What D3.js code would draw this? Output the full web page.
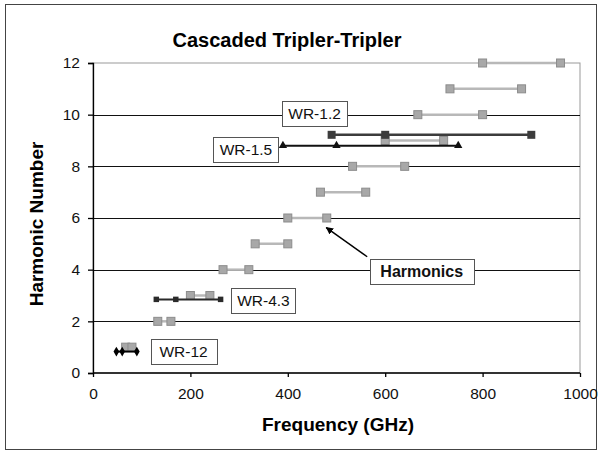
<!DOCTYPE html>
<html>
<head>
<meta charset="utf-8">
<script src="https://cdn.jsdelivr.net/npm/d3@7"></script>
<style>
body { margin: 0; background: #fff; }
text { font-family: "Liberation Sans", Arial, sans-serif; }
</style>
</head>
<body>
<div id="container"></div>
<script>
// harmonic n covers n*fmin .. n*fmax
var harmonics = [1, 2, 3, 4, 5, 6, 7, 8, 9, 10, 11, 12];
var harmLow  = [67, 133, 200, 267, 333, 400, 467, 533, 600, 667, 733, 800];
var harmHigh = [80, 160, 240, 320, 400, 480, 560, 640, 720, 800, 880, 960];

// waveguide bands
var wr12Freq  = [48, 60, 90];
var wr12Harm  = [0.83, 0.83, 0.83];
var wr43Freq  = [130, 170, 262];
var wr43Harm  = [2.85, 2.85, 2.85];
var wr15Freq  = [390, 500, 750];
var wr15Harm  = [8.8, 8.8, 8.8];
var wr1p2Freq = [490, 600, 900];
var wr1p2Harm = [9.22, 9.22, 9.22];

var xTicks = [0, 200, 400, 600, 800, 1000];
var yTicks = [0, 2, 4, 6, 8, 10, 12];

var width = 601,
	height = 451,
	margin = {top: 63, right: 20, bottom: 78, left: 93};

var xScale = d3.scaleLinear()
	.domain([0, 1000])
	.range([margin.left, width - margin.right - 1])

var yScale = d3.scaleLinear()
	.domain([0, 12])
	.range([height - margin.bottom, margin.top])

var svg = d3.select("#container")
	.append('svg')
		.attr("width", width)
		.attr("height", height)

// outer frame
svg.append("rect")
	.attr("x", 5.5).attr("y", 4.5)
	.attr("width", 591).attr("height", 445)
	.style("fill", "none")
	.style("stroke", "#444")
	.style("stroke-width", 1)

// plot border
svg.append("rect")
	.attr("x", xScale(0)).attr("y", yScale(12))
	.attr("width", xScale(1000) - xScale(0))
	.attr("height", yScale(0) - yScale(12))
	.style("fill", "none")
	.style("stroke", "#999")

// gridlines
svg.append("g").selectAll("line")
	.data(yTicks.filter(function(d){ return d > 0 && d < 12; }))
	.enter().append("line")
	.attr("x1", xScale(0)).attr("x2", xScale(1000))
	.attr("y1", function(d){ return Math.round(yScale(d)) + 0.5; })
	.attr("y2", function(d){ return Math.round(yScale(d)) + 0.5; })
	.style("stroke", "#111")
	.style("stroke-width", 1)

var xAxis = svg.append("g")
	.attr("transform", "translate(0," + yScale(0) + ")")
	.call(d3.axisBottom(xScale).tickValues(xTicks).tickFormat(d3.format("d"))
		.tickSize(4).tickPadding(11))
var yAxis = svg.append("g")
	.attr("transform", "translate(" + xScale(0) + ",0)")
	.call(d3.axisLeft(yScale).tickValues(yTicks).tickSize(5).tickPadding(8))

svg.selectAll(".tick text")
	.style("font-size", "15.5px")
	.style("fill", "#111")
svg.selectAll(".domain, .tick line").style("stroke", "#000").style("stroke-width", 1.3)
xAxis.select(".domain").attr("d", "M" + xScale(0) + ",0H" + xScale(1000))

// harmonics
var harm = svg.append("g").selectAll("g")
	.data(harmonics)
	.enter().append("g")
harm.append("line")
	.attr("x1", function(d, i){ return xScale(harmLow[i]); })
	.attr("x2", function(d, i){ return xScale(harmHigh[i]); })
	.attr("y1", function(d){ return yScale(d); })
	.attr("y2", function(d){ return yScale(d); })
	.style("stroke", "#b8b8b8")
	.style("stroke-width", 2.5)
harm.selectAll("rect")
	.data(function(d, i){ return [[harmLow[i], d], [harmHigh[i], d]]; })
	.enter().append("rect")
	.attr("x", function(p){ return xScale(p[0]) - 4; })
	.attr("y", function(p){ return yScale(p[1]) - 4; })
	.attr("width", 8).attr("height", 8)
	.style("fill", "#a8a8a8")
	.style("stroke", "#8c8c8c")
	.style("stroke-width", 1)

function series(freq, harmv, colour, lw, marker, size) {
	var pts = freq.map(function(f, i){ return [f, harmv[i]]; });
	svg.append("path")
		.datum(pts)
		.attr("d", d3.line()
			.x(function(p){ return xScale(p[0]); })
			.y(function(p){ return yScale(p[1]); }))
		.style("fill", "none")
		.style("stroke", colour)
		.style("stroke-width", lw)
	svg.append("g").selectAll("path")
		.data(pts)
		.enter().append("path")
		.attr("d", d3.symbol().type(marker).size(size))
		.attr("transform", function(p){
			return "translate(" + xScale(p[0]) + "," + yScale(p[1]) + ")";
		})
		.style("fill", colour)
}

series(wr12Freq, wr12Harm, "#000", 2, d3.symbolDiamond, 28)
series(wr43Freq, wr43Harm, "#2a2a2a", 2, d3.symbolSquare, 30)
series(wr15Freq, wr15Harm, "#111", 2, d3.symbolTriangle, 30)
series(wr1p2Freq, wr1p2Harm, "#3c3c3c", 2.5, d3.symbolSquare, 64)

// annotation boxes, anchored in data units
var labelText = ["WR-1.2", "WR-1.5", "WR-4.3", "WR-12", "Harmonics"];
var labelFreq = [455, 314, 350, 186, 675];
var labelHarm = [10.04, 8.66, 2.82, 0.85, 3.94];

var boxW = [65, 65, 64, 66, 104];
labelText.forEach(function(t, i){
	var cx = xScale(labelFreq[i]), cy = yScale(labelHarm[i]);
	var bold = t == "Harmonics";
	svg.append("rect")
		.attr("x", Math.round(cx - boxW[i] / 2) + 0.5)
		.attr("y", Math.round(cy - 12.5) + 0.5)
		.attr("width", boxW[i]).attr("height", 25)
		.style("fill", "#fff")
		.style("stroke", "#555")
	svg.append("text")
		.attr("x", cx).attr("y", cy + 5.5)
		.attr("text-anchor", "middle")
		.style("font-size", bold ? "16px" : "15.5px")
		.style("font-weight", bold ? "bold" : "normal")
		.style("fill", "#111")
		.text(t)
})

// arrow from the Harmonics box to the sixth harmonic
svg.append("defs").append("marker")
	.attr("id", "head")
	.attr("viewBox", "0 0 10 10")
	.attr("refX", 9).attr("refY", 5)
	.attr("markerWidth", 5).attr("markerHeight", 5)
	.attr("orient", "auto")
	.append("path").attr("d", "M0,0L10,5L0,10z").style("fill", "#000")
svg.append("line")
	.attr("x1", xScale(563)).attr("y1", yScale(4.5))
	.attr("x2", xScale(479)).attr("y2", yScale(5.63))
	.style("stroke", "#000")
	.style("stroke-width", 1.5)
	.attr("marker-end", "url(#head)")

svg.append("text")
	.attr("x", 287).attr("y", 47)
	.attr("text-anchor", "middle")
	.style("font-size", "20px").style("font-weight", "bold")
	.text("Cascaded Tripler-Tripler")

svg.append("text")
	.attr("x", 338).attr("y", 431)
	.attr("text-anchor", "middle")
	.style("font-size", "19px").style("font-weight", "bold")
	.text("Frequency (GHz)")

svg.append("text")
	.attr("transform", "translate(43," + (yScale(6) + 6) + ") rotate(-90)")
	.attr("text-anchor", "middle")
	.style("font-size", "19px").style("font-weight", "bold")
	.text("Harmonic Number")
</script>
</body>
</html>
